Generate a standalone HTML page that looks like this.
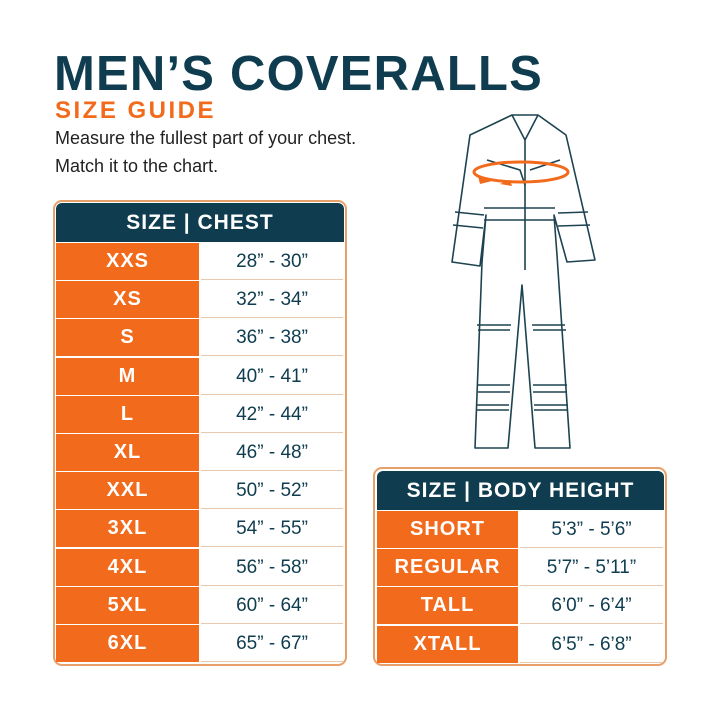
<!DOCTYPE html>
<html><head><meta charset="utf-8"><style>
*{margin:0;padding:0;box-sizing:border-box}
body{width:720px;height:720px;background:#fff;position:relative;font-family:"Liberation Sans",sans-serif;overflow:hidden}
.t1{position:absolute;left:54px;top:46px;font-size:49px;font-weight:900;color:#0f3d4f;letter-spacing:1.2px;white-space:nowrap}
.t2{position:absolute;left:55px;top:97px;font-size:24px;font-weight:700;color:#f26a1b;letter-spacing:2.5px;white-space:nowrap}
.p{position:absolute;left:55px;font-size:18px;color:#222;white-space:nowrap}
.tb{position:absolute;border:2px solid #e8a06a;border-radius:9px;background:#fff}
.hd{position:absolute;background:#0f3d4f;color:#fff;font-weight:900;font-size:21px;text-align:center;border-radius:6px 6px 0 0;letter-spacing:1px}
.r{position:absolute;height:37px;line-height:37px;font-size:20px;text-align:center}
.o{background:#f26a1b;color:#fff;font-weight:900;letter-spacing:1px}
.v{color:#0f3d4f;border-bottom:1px solid #e8c9b0;font-size:19px}
</style></head><body>
<div class="t1">MEN’S COVERALLS</div>
<div class="t2">SIZE GUIDE</div>
<div class="p" style="top:128px">Measure the fullest part of your chest.</div>
<div class="p" style="top:156px">Match it to the chart.</div>

<div class="tb" style="left:53px;top:200px;width:294px;height:466px"></div>
<div class="hd" style="left:56px;top:203px;width:288px;height:39px;line-height:39px">SIZE | CHEST</div>
<div id="L"></div>

<div class="tb" style="left:373px;top:467px;width:294px;height:199px"></div>
<div class="hd" style="left:377px;top:471px;width:287px;height:39px;line-height:39px">SIZE | BODY HEIGHT</div>
<div id="R"></div>

<svg style="position:absolute;left:0;top:0" width="720" height="720">
<g fill="none" stroke="#1d4350" stroke-width="1.6" stroke-linejoin="round">
<path d="M512,115 L470,135 L452,262 L480,266 L486,215 L482,262 L475,448 L508,448 L522,285 L535,448 L570,448 L557,255 L554,215 L567,262 L595,260 L566,135 L538,115 Z"/>
<path d="M512,115 L525,140 L538,115 M525,140 L525,270"/>
<path d="M484,208 L555,208 M484,220 L556,220 M455,212 L484,215 M558,213 L588,212 M453,225 L483,228 M558,226 L590,225"/>
<path d="M477,325 L511,325 M478,330 L510,330 M532,325 L565,325 M533,330 L566,330"/>
<path d="M477,385 L510,385 M478,392 L510,392 M533,385 L567,385 M533,392 L567,392 M476,405 L509,405 M477,410 L509,410 M534,405 L568,405 M534,410 L568,410"/>
<path d="M487,160 L520,170 L525,185 M560,160 L530,170"/>
</g>
<ellipse cx="521" cy="172" rx="47" ry="10" fill="none" stroke="#f26a1b" stroke-width="3"/>
<path d="M478,176 L492,181 L480,184 Z M510,180 L500,184 L512,186 Z" fill="#f26a1b"/>
</svg>
<script>
var l=[["XXS","28” - 30”"],["XS","32” - 34”"],["S","36” - 38”"],["M","40” - 41”"],["L","42” - 44”"],["XL","46” - 48”"],["XXL","50” - 52”"],["3XL","54” - 55”"],["4XL","56” - 58”"],["5XL","60” - 64”"],["6XL","65” - 67”"]];
var h="";l.forEach(function(a,i){var y=243+i*38.2;h+='<div class="r o" style="left:56px;top:'+y+'px;width:143px">'+a[0]+'</div><div class="r v" style="left:201px;top:'+y+'px;width:142px">'+a[1]+'</div>';});
document.getElementById("L").innerHTML=h;
var r=[["SHORT","5’3” - 5’6”"],["REGULAR","5’7” - 5’11”"],["TALL","6’0” - 6’4”"],["XTALL","6’5” - 6’8”"]];
h="";r.forEach(function(a,i){var y=511+i*38.2;h+='<div class="r o" style="left:377px;top:'+y+'px;width:141px">'+a[0]+'</div><div class="r v" style="left:520px;top:'+y+'px;width:143px">'+a[1]+'</div>';});
document.getElementById("R").innerHTML=h;
</script>
</body></html>
